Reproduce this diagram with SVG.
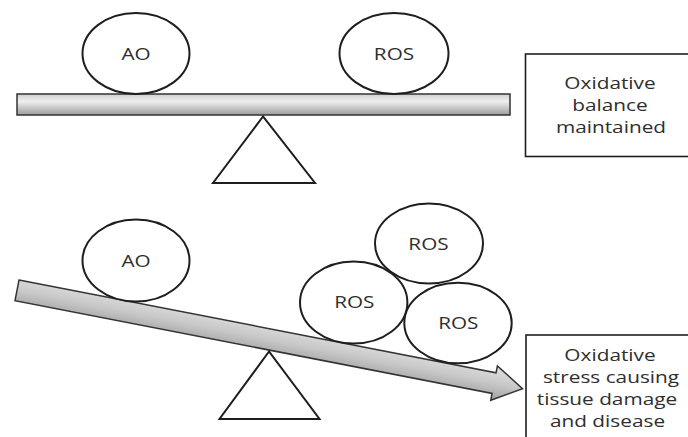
<svg xmlns="http://www.w3.org/2000/svg" width="688" height="437" viewBox="0 0 688 437">
<defs>
<linearGradient id="barGrad" x1="0" y1="0" x2="0" y2="1">
<stop offset="0" stop-color="#cfcfcf"/>
<stop offset="0.35" stop-color="#efefef"/>
<stop offset="1" stop-color="#9c9c9c"/>
</linearGradient>
<linearGradient id="beamGrad" x1="0" y1="0" x2="0" y2="1">
<stop offset="0" stop-color="#e0e0e0"/>
<stop offset="0.5" stop-color="#c8c8c8"/>
<stop offset="1" stop-color="#a0a0a0"/>
</linearGradient>
<style>
.ball{fill:#fff;stroke:#1e1e1e;stroke-width:2}
.tri{fill:#fff;stroke:#1e1e1e;stroke-width:2;stroke-linejoin:miter}
.box{fill:#fff;stroke:#1e1e1e;stroke-width:1.6}
.beam{stroke:#333;stroke-width:1.5;stroke-linejoin:miter}
.t{font-family:"Open Sans","Liberation Sans",sans-serif;font-size:17px;fill:#2e2e2e;text-anchor:middle}
.b{font-family:"Open Sans","Liberation Sans",sans-serif;font-size:16px;fill:#2e2e2e;text-anchor:middle}
</style>
</defs>
<rect width="688" height="437" fill="#fff"/>

<!-- top balance -->
<g id="top-beam">
<rect class="beam" x="17" y="94" width="493" height="21" fill="url(#barGrad)"/>
</g>
<g id="top-fulcrum">
<polygon class="tri" points="263,116.5 213,183 315,183"/>
</g>
<g id="top-ao">
<ellipse class="ball" cx="136" cy="53.5" rx="53.5" ry="40.5"/>
<text class="t" transform="translate(136,59.6) scale(1.22,1)">AO</text>
</g>
<g id="top-ros">
<ellipse class="ball" cx="394" cy="53.5" rx="54.5" ry="40.5"/>
<text class="t" transform="translate(394,59.6) scale(1.22,1)">ROS</text>
</g>
<g id="box-balance">
<rect class="box" x="525.5" y="54" width="170" height="102.5"/>
<text class="b" transform="translate(610,89) scale(1.3,1)">Oxidative</text>
<text class="b" transform="translate(610,111) scale(1.3,1)">balance</text>
<text class="b" transform="translate(611,133) scale(1.3,1)">maintained</text>
</g>

<!-- bottom imbalance -->
<g id="connectors">
<g id="bottom-beam" transform="translate(17,290.35) rotate(11)">
<polygon class="beam" fill="url(#beamGrad)" points="0,-10.5 486,-10.5 486,-17.5 515,0 486,17.5 486,10.5 0,10.5"/>
</g>
</g>
<g id="bottom-fulcrum">
<polygon class="tri" points="269,351.5 219.5,419 319.5,419"/>
</g>
<g id="bottom-ao">
<ellipse class="ball" cx="136" cy="260.5" rx="53.5" ry="41"/>
<text class="t" transform="translate(136,266.5) scale(1.22,1)">AO</text>
</g>
<g id="ros-top">
<ellipse class="ball" cx="429" cy="243.5" rx="54" ry="40"/>
<text class="t" transform="translate(428.5,249.5) scale(1.22,1)">ROS</text>
</g>
<g id="ros-left">
<ellipse class="ball" cx="353.7" cy="302.5" rx="53.7" ry="41"/>
<text class="t" transform="translate(354.3,308) scale(1.22,1)">ROS</text>
</g>
<g id="ros-right">
<ellipse class="ball" cx="458" cy="323" rx="53.7" ry="40.3"/>
<text class="t" transform="translate(458.3,329) scale(1.22,1)">ROS</text>
</g>
<g id="box-stress">
<rect class="box" x="526" y="335" width="170" height="120"/>
<text class="b" transform="translate(610,360.5) scale(1.3,1)">Oxidative</text>
<text class="b" transform="translate(611,382.5) scale(1.3,1)">stress causing</text>
<text class="b" transform="translate(607,404.5) scale(1.3,1)">tissue damage</text>
<text class="b" transform="translate(607.5,426.5) scale(1.3,1)">and disease</text>
</g>
</svg>
